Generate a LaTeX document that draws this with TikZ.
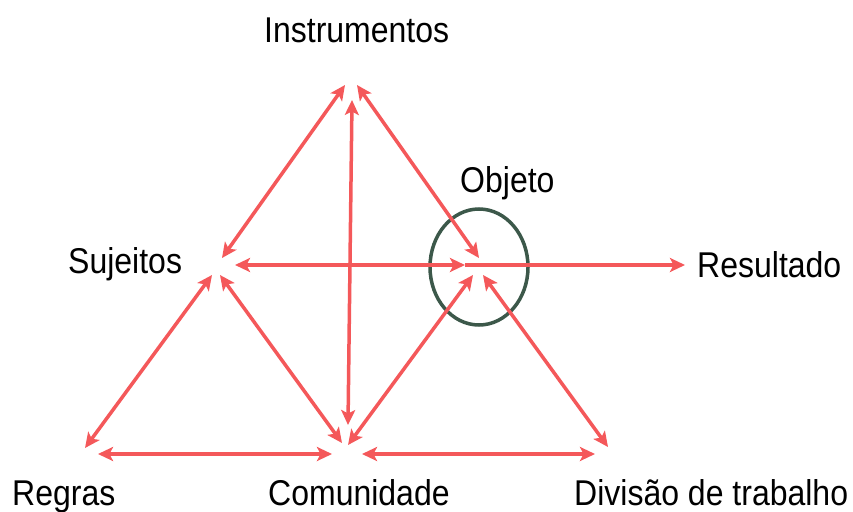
\documentclass[tikz,border=0pt]{standalone}
\usepackage{fontspec}
\setmainfont{Liberation Sans}
\usetikzlibrary{arrows.meta,shapes.geometric}
\definecolor{arrowred}{RGB}{244,88,90}
\definecolor{circgreen}{RGB}{60,88,74}
\begin{document}
\begin{tikzpicture}[x=1pt,y=-1pt,
  tip/.tip={Stealth[length=15pt,width=14pt,inset=3.5pt]},
  conn/.style={draw=arrowred, line width=3.5pt, tip-tip},
  oneway/.style={draw=arrowred, line width=3.5pt, -tip},
  lbl/.style={font=\fontsize{32}{38}\selectfont, inner sep=0pt, anchor=base west, yscale=1.12}]
\useasboundingbox (0,0) rectangle (853,511);
% labels
\node[lbl] (inst) at (264,43) {Instrumentos};
\node[lbl] (obj) at (460,192) {Objeto};
\node[lbl] (suj) at (68,273) {Sujeitos};
\node[lbl] (res) at (697,277) {Resultado};
\node[lbl] (reg) at (12,505) {Regras};
\node[lbl] (com) at (268,505) {Comunidade};
\node[lbl] (div) at (574,505) {Divisão de trabalho};
% object circle
\node[draw=circgreen, line width=3.5pt, ellipse, minimum width=98pt, minimum height=116pt, inner sep=0pt] (circ) at (479,267) {};
% endpoints
\coordinate (ts1) at (345,85);  \coordinate (ts2) at (222,258);
\coordinate (tc1) at (352,100); \coordinate (tc2) at (348,425);
\coordinate (to1) at (357,85);  \coordinate (to2) at (479,258);
\coordinate (so1) at (235,265); \coordinate (so2) at (465,265);
\coordinate (or2) at (685,265);
\coordinate (sr1) at (212,275); \coordinate (sr2) at (85,448);
\coordinate (sc1) at (220,275); \coordinate (sc2) at (342,443);
\coordinate (oc1) at (473,275); \coordinate (oc2) at (348,445);
\coordinate (od1) at (483,275); \coordinate (od2) at (608,447);
\coordinate (rc1) at (98,454);  \coordinate (rc2) at (332,454);
\coordinate (cd1) at (362,454); \coordinate (cd2) at (595,454);
% connectors
\draw[conn] (ts1) -- (ts2);
\draw[conn] (tc1) -- (tc2);
\draw[conn] (to1) -- (to2);
\draw[oneway] (so2) -- (or2);
\draw[conn] (so1) -- (so2);
\draw[conn] (sr1) -- (sr2);
\draw[conn] (sc1) -- (sc2);
\draw[conn] (oc1) -- (oc2);
\draw[conn] (od1) -- (od2);
\draw[conn] (rc1) -- (rc2);
\draw[conn] (cd1) -- (cd2);
\end{tikzpicture}
\end{document}
